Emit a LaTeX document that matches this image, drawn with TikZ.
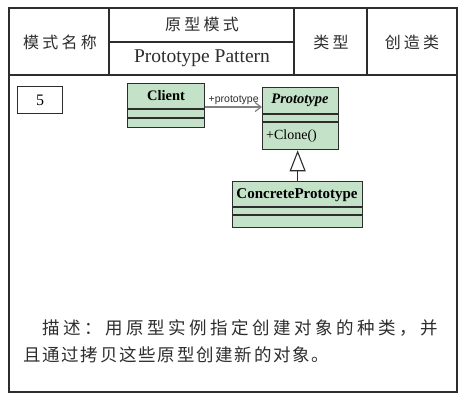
\documentclass[tikz,border=0pt]{standalone}
\usepackage{fontspec}
\setmainfont{Liberation Serif}
\newfontfamily\cjk[LetterSpace=20]{Noto Sans CJK SC}
\newfontfamily\cjktight[LetterSpace=10]{Noto Sans CJK SC}
\newfontfamily\smallsans{Liberation Sans}
\usetikzlibrary{arrows.meta,calc}
\definecolor{umlfill}{RGB}{196,226,200}
\definecolor{ink}{RGB}{45,45,45}
\tikzset{
  frame/.style={draw=ink, line width=1.1pt},
  cls/.style={draw=ink, line width=1.3pt, fill=umlfill, rectangle, inner sep=0pt, anchor=north west},
  cjktxt/.style={text=ink, font=\cjk\fontsize{16}{18}\selectfont, inner sep=0pt},
  assoc/.style={draw=gray, line width=1.4pt, -{Straight Barb[length=6pt,width=9pt,line width=1.2pt]}},
  inherit/.style={draw=ink, line width=1.1pt, -{Triangle[open,length=21pt,width=16pt,fill=white]}}
}
\begin{document}
\begin{tikzpicture}[x=1pt,y=-1pt]
\useasboundingbox (0,0) rectangle (466,402);
% table frame
\draw[frame] (9,8) rectangle (457,392);
\draw[frame] (9,75) -- (457,75);
\draw[frame] (109,8) -- (109,75);
\draw[frame] (294,8) -- (294,75);
\draw[frame] (367,8) -- (367,75);
\draw[frame] (109,42) -- (294,42);
\node[cjktxt] (h1) at (60,42) {模式名称};
\node[cjktxt] (h2) at (202,24) {原型模式};
\node[text=ink, font=\fontsize{19.5}{22}\selectfont, inner sep=0pt] (h3) at (202,58) {Prototype Pattern};
\node[cjktxt] (h4) at (331,42) {类型};
\node[cjktxt] (h5) at (412,42) {创造类};
% number box
\node[draw=ink, line width=1pt, minimum width=45pt, minimum height=27pt, inner sep=0pt, anchor=north west,
      font=\fontsize{16}{18}\selectfont] (num) at (17,86) {5};
% classes
\node[cls, minimum width=77pt, minimum height=44pt] (client) at (127,83) {};
\draw[ink, line width=1.3pt] (127,109) -- (204,109) (127,118) -- (204,118);
\node[font=\bfseries\fontsize{14.5}{16}\selectfont, inner sep=0pt] (clientname) at (166,96) {Client};
\node[cls, minimum width=76pt, minimum height=62pt] (proto) at (262,87) {};
\draw[ink, line width=1.3pt] (262,114) -- (338,114) (262,122) -- (338,122);
\node[font=\bfseries\itshape\fontsize{14.5}{16}\selectfont, inner sep=0pt] (protoname) at (300,100) {Prototype};
\node[font=\fontsize{14}{16}\selectfont, inner sep=0pt, anchor=west] (clone) at (266,136) {+Clone()};
\node[cls, minimum width=130pt, minimum height=46pt] (concrete) at (232,181) {};
\draw[ink, line width=1.3pt] (232,207) -- (362,207) (232,215) -- (362,215);
\node[font=\bfseries\fontsize{15}{17}\selectfont, inner sep=0pt] (concname) at (297,195) {ConcretePrototype};
% connectors
\coordinate (a1) at ([yshift=-24pt]client.north east);
\draw[assoc] (a1) -- (a1 -| proto.west)
  node[pos=0.5, above=0.5pt, font=\smallsans\fontsize{10.5}{12}\selectfont, text=ink, inner sep=1pt] (rolelbl) {+prototype};
\draw[inherit] (concrete.north) -- (concrete.north |- proto.south);
% description
\node[cjktxt, anchor=west, font=\cjk\fontsize{17.5}{20}\selectfont] (d1) at (42,328) {描述：用原型实例指定创建对象的种类，并};
\node[cjktxt, anchor=west, font=\cjktight\fontsize{17.5}{20}\selectfont] (d2) at (23,355) {且通过拷贝这些原型创建新的对象。};
\end{tikzpicture}
\end{document}
